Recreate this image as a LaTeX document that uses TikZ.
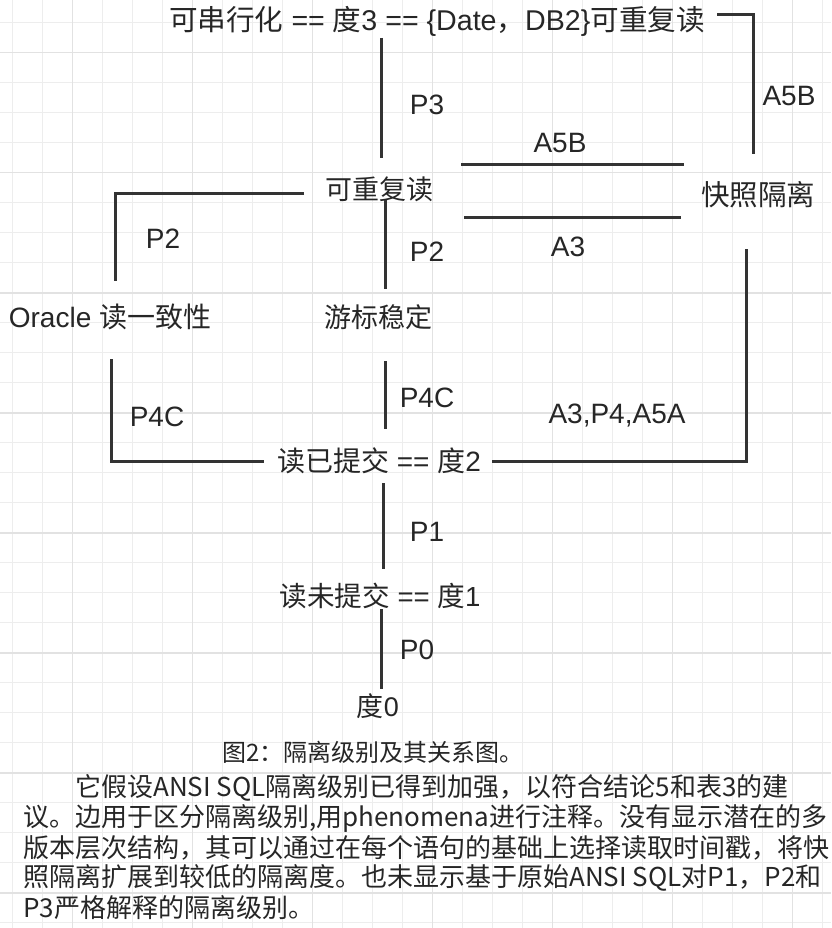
\documentclass[tikz,border=0pt]{standalone}
\usepackage{fontspec}
\setmainfont{Noto Sans CJK SC}
\newfontfamily\latfont{Liberation Sans}
\newcommand\LAT[1]{{\latfont #1}}
\definecolor{ink}{HTML}{333333}
\definecolor{txt}{HTML}{262626}
\definecolor{gridminor}{HTML}{EDEDED}
\definecolor{gridmajor}{HTML}{E2E2E2}
\begin{document}
\begin{tikzpicture}[x=1pt,y=-1pt,
  lbl/.style={text=txt, inner sep=0pt, font=\fontsize{27}{30}\selectfont},
  tag/.style={text=txt, inner sep=0pt, font=\latfont\fontsize{28}{30}\selectfont},
  link/.style={draw=ink, line width=3pt},
  para/.style={text=txt, inner sep=0pt, anchor=west, font=\fontsize{26}{30}\selectfont},
  captext/.style={text=txt, inner sep=0pt, anchor=west, font=\fontsize{24}{30}\selectfont}]
\useasboundingbox (0,0) rectangle (831,928);
\fill[white] (0,0) rectangle (831,928);
% grid
\foreach \i in {0,...,27} \draw[gridminor, line width=1.2pt] ({12.3+30*\i},0) -- ({12.3+30*\i},928);
\foreach \i in {0,...,30} \draw[gridminor, line width=1.2pt] (0,{22.7+30*\i}) -- (831,{22.7+30*\i});
\foreach \i in {0,...,6} \draw[gridmajor, line width=1.6pt] ({72.3+120*\i},0) -- ({72.3+120*\i},928);
\foreach \i in {0,...,7} \draw[gridmajor, line width=1.6pt] (0,{52.7+120*\i}) -- (831,{52.7+120*\i});

% level nodes
\node[lbl, font=\fontsize{28.6}{30}\selectfont] (ser) at (437,21) {可串行化\LAT{ == }度\LAT{3 == \{Date}，\LAT{DB2\}}可重复读};
\node[lbl] (rr) at (379,189) {可重复读};
\node[lbl, font=\fontsize{28.5}{30}\selectfont] (si) at (758,195) {快照隔离};
\node[lbl, font=\fontsize{28}{30}\selectfont] (orc) at (110,317) {\LAT{Oracle }读一致性};
\node[lbl] (cs) at (378,317) {游标稳定};
\node[lbl, font=\fontsize{28}{30}\selectfont] (rc) at (379,461) {读已提交\LAT{ == }度\LAT{2}};
\node[lbl, font=\fontsize{27.6}{30}\selectfont] (ru) at (380,596) {读未提交\LAT{ == }度\LAT{1}};
\node[lbl] (d0) at (378,706) {度\LAT{0}};

% connector end points
\coordinate (p3a) at (381,38);   \coordinate (p3b) at (381,158);
\coordinate (a5ta) at (717,15);  \coordinate (a5tc) at (753,15); \coordinate (a5tb) at (753,154);
\coordinate (a5ma) at (461,165); \coordinate (a5mb) at (684,165);
\coordinate (a3a) at (464,217);  \coordinate (a3b) at (681,217);
\coordinate (l2a) at (304,193);  \coordinate (l2c) at (115,193); \coordinate (l2b) at (115,281);
\coordinate (m2a) at (385,200);  \coordinate (m2b) at (385,289);
\coordinate (l4a) at (111,359);  \coordinate (l4c) at (111,461); \coordinate (l4b) at (264,461);
\coordinate (m4a) at (385,361);  \coordinate (m4b) at (385,429);
\coordinate (ra) at (746,249);   \coordinate (rc2) at (746,461); \coordinate (rb) at (492,461);
\coordinate (p1a) at (383,483);  \coordinate (p1b) at (383,569);
\coordinate (p0a) at (381,609);  \coordinate (p0b) at (381,689);

\draw[link] (p3a) -- (p3b);
\draw[link] (a5ta) -- (a5tc) -- (a5tb);
\draw[link] (a5ma) -- (a5mb);
\draw[link] (a3a) -- (a3b);
\draw[link] (l2a) -- (l2c) -- (l2b);
\draw[link] (m2a) -- (m2b);
\draw[link] (l4a) -- (l4c) -- (l4b);
\draw[link] (m4a) -- (m4b);
\draw[link] (ra) -- (rc2) -- (rb);
\draw[link] (p1a) -- (p1b);
\draw[link] (p0a) -- (p0b);

% connector labels
\node[tag] (tp3) at (427,105) {P3};
\node[tag] (ta5t) at (789,96) {A5B};
\node[tag] (ta5m) at (560,143) {A5B};
\node[tag] (ta3) at (568,247) {A3};
\node[tag] (tl2) at (163,239) {P2};
\node[tag] (tm2) at (427,252) {P2};
\node[tag] (tl4) at (157,417) {P4C};
\node[tag] (tm4) at (427,398) {P4C};
\node[tag] (tr) at (617,416) {A3,P4,A5A};
\node[tag] (tp1) at (427,532) {P1};
\node[tag] (tp0) at (417,650) {P0};

% caption and text
\node[captext] (caption) at (222,752) {图2：隔离级别及其关系图。};
\node[para] (t1) at (75,788) {它假设ANSI SQL隔离级别已得到加强，以符合结论5和表3的建};
\node[para] (t2) at (23,818) {议。边用于区分隔离级别,用phenomena进行注释。没有显示潜在的多};
\node[para] (t3) at (23,848) {版本层次结构，其可以通过在每个语句的基础上选择读取时间戳，将快};
\node[para] (t4) at (23,878) {照隔离扩展到较低的隔离度。也未显示基于原始ANSI SQL对P1，P2和};
\node[para] (t5) at (23,908) {P3严格解释的隔离级别。};
\end{tikzpicture}
\end{document}
